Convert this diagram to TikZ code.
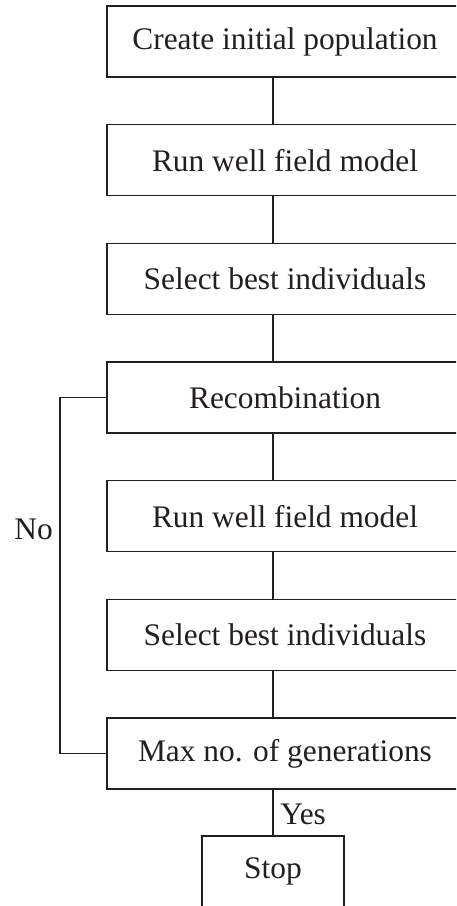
\documentclass[tikz,border=0pt]{standalone}
\usepackage{fontspec}
\setmainfont{Liberation Serif}
\usetikzlibrary{positioning}
\definecolor{ink}{RGB}{35,31,32}
\tikzstyle{block} = [rectangle, draw=ink, text=ink, minimum width=178pt,
    minimum height=35.5pt, inner sep=0pt, font=\fontsize{15.7}{18}\selectfont]
\tikzstyle{lbl} = [text=ink, font=\fontsize{15.7}{18}\selectfont]

\begin{document}
\begin{tikzpicture}[x=0.5pt,y=0.5pt,line width=0.6pt,node distance=59.33pt]
  % Frame
  \clip (0,0) rectangle (456,906);
  % Place nodes
  \node [block] (init) at (285,864.5) {Create initial population};
  \node [block, below of=init] (run1) {Run well field model};
  \node [block, below of=run1] (sel1) {Select best individuals};
  \node [block, below of=sel1] (recomb) {Recombination};
  \node [block, below of=recomb] (run2) {Run well field model};
  \node [block, below of=run2] (sel2) {Select best individuals};
  \node [block, below of=sel2] (maxgen) {Max no. of generations};
  \node [block, minimum width=71pt] (stop) at (273,34.5) {Stop};
  \coordinate (loop) at (60,0);
  % Draw edges
  \draw[ink] (init.south -| stop) -- (run1.north -| stop);
  \draw[ink] (run1.south -| stop) -- (sel1.north -| stop);
  \draw[ink] (sel1.south -| stop) -- (recomb.north -| stop);
  \draw[ink] (recomb.south -| stop) -- (run2.north -| stop);
  \draw[ink] (run2.south -| stop) -- (sel2.north -| stop);
  \draw[ink] (sel2.south -| stop) -- (maxgen.north -| stop);
  \draw[ink] (maxgen.south -| stop) -- node[lbl, right, pos=0.55]{Yes} (stop);
  \draw[ink] (maxgen.west) -- (maxgen.west -| loop)
    -- node[lbl, left, pos=0.63]{No} (recomb.west -| loop) -- (recomb.west);
\end{tikzpicture}
\end{document}
